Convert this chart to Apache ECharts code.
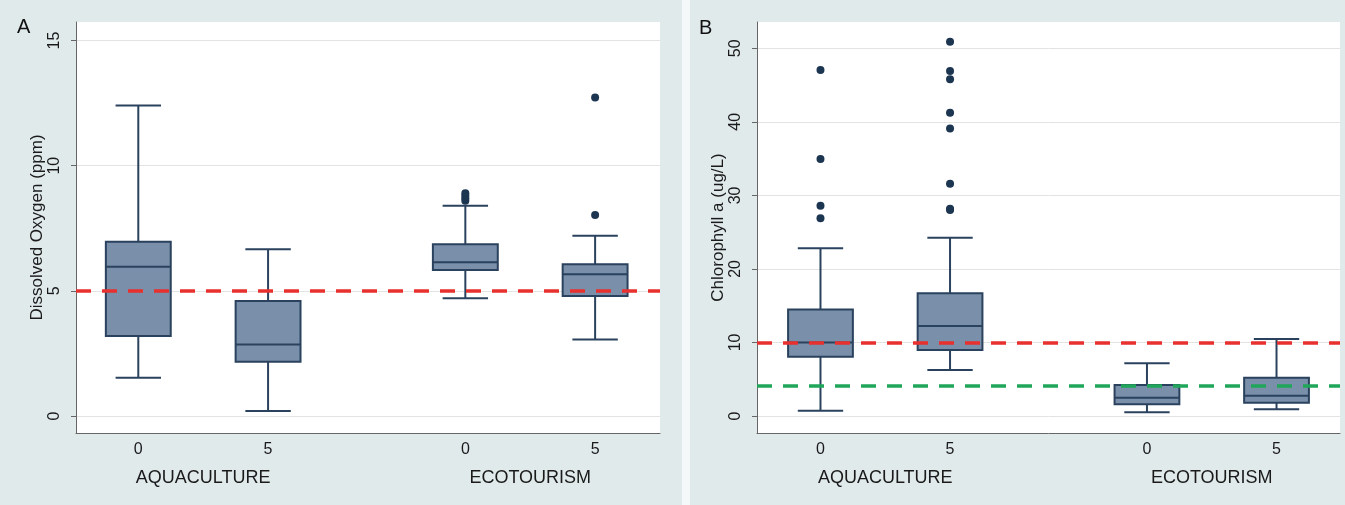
<!DOCTYPE html>
<html>
<head>
<meta charset="utf-8">
<script src="https://cdn.jsdelivr.net/npm/echarts@6/dist/echarts.min.js"></script>
<style>
  html, body { margin: 0; padding: 0; background: #e1eaeb; }
  #main { width: 1345px; height: 505px; }
</style>
</head>
<body>
<div id="main"></div>
<script>
// categories
const groupNames = ['AQUACULTURE', 'ECOTOURISM'];
const groupCenters = [1.5, 4.02];
const levelLabels = ['0', '5', '0', '5'];
const positions = [1, 2, 3.52, 4.52];

// dissolved oxygen boxes: [min, q1, median, q3, max]
const doBoxes = [
  [1.53, 3.2, 5.96, 6.96, 12.4],
  [0.2, 2.17, 2.86, 4.59, 6.66],
  [4.7, 5.83, 6.14, 6.86, 8.4],
  [3.06, 4.79, 5.66, 6.06, 7.2]
];
// outliers: [box index, value]
const doOutliers = [
  [2, 8.6], [2, 8.7], [2, 8.8], [2, 8.9],
  [3, 8.03], [3, 12.72]
];
const doTicks = [0, 5, 10, 15];
const doLimit = 5;

// chlorophyll a boxes
const chlBoxes = [
  [0.72, 8.07, 10.0, 14.5, 22.8],
  [6.26, 8.97, 12.24, 16.7, 24.25],
  [0.5, 1.59, 2.49, 4.22, 7.16],
  [0.91, 1.81, 2.76, 5.21, 10.47]
];
const chlOutliers = [
  [0, 47.05], [0, 34.95], [0, 28.6], [0, 26.9],
  [1, 50.9], [1, 46.9], [1, 45.8], [1, 41.25], [1, 39.1], [1, 31.6], [1, 28.2], [1, 28.0]
];
const chlTicks = [0, 10, 20, 30, 40, 50];
const chlRedLimit = 10;
const chlGreenLimit = 4.1;

const FONT = 'Liberation Sans';
const TXT = '#1a1a1a';
const BOX_FILL = '#7a8fa9';
const BOX_LINE = '#2a425e';
const DOT = '#1c3551';
const BOX_W = 0.5;
const CAP_W = 0.35;

function renderBox(params, api) {
  const x = api.value(0);
  const lo = api.coord([x, api.value(1)]);
  const q1 = api.coord([x, api.value(2)]);
  const md = api.coord([x, api.value(3)]);
  const q3 = api.coord([x, api.value(4)]);
  const hi = api.coord([x, api.value(5)]);
  const bw = api.size([BOX_W, 0])[0];
  const cw = api.size([CAP_W, 0])[0];
  const cx = lo[0];
  const ls = { stroke: BOX_LINE, lineWidth: 2 };
  return {
    type: 'group',
    children: [
      { type: 'line', shape: { x1: cx, y1: hi[1], x2: cx, y2: q3[1] }, style: ls },
      { type: 'line', shape: { x1: cx, y1: q1[1], x2: cx, y2: lo[1] }, style: ls },
      { type: 'line', shape: { x1: cx - cw / 2, y1: hi[1], x2: cx + cw / 2, y2: hi[1] }, style: ls },
      { type: 'line', shape: { x1: cx - cw / 2, y1: lo[1], x2: cx + cw / 2, y2: lo[1] }, style: ls },
      { type: 'rect', shape: { x: cx - bw / 2, y: q3[1], width: bw, height: q1[1] - q3[1] },
        style: { fill: BOX_FILL, stroke: BOX_LINE, lineWidth: 2 } },
      { type: 'line', shape: { x1: cx - bw / 2, y1: md[1], x2: cx + bw / 2, y2: md[1] }, style: ls }
    ]
  };
}

function boxData(boxes) {
  return boxes.map((b, i) => [positions[i]].concat(b));
}
function dotData(outs) {
  return outs.map(o => [positions[o[0]], o[1]]);
}

function xAxes(gridIndex, min, max) {
  return [
    {
      type: 'value', gridIndex: gridIndex, min: min, max: max,
      axisLine: { show: true, onZero: false, lineStyle: { color: '#666', width: 1 } },
      axisTick: { show: false },
      splitLine: { show: false },
      axisLabel: {
        customValues: positions, margin: 9, fontFamily: FONT, fontSize: 16, color: TXT,
        formatter: v => levelLabels[positions.indexOf(v)]
      }
    },
    {
      type: 'value', gridIndex: gridIndex, min: min, max: max, position: 'bottom', offset: 28,
      axisLine: { show: false, onZero: false }, axisTick: { show: false }, splitLine: { show: false },
      axisLabel: {
        customValues: groupCenters, margin: 8, fontFamily: FONT, fontSize: 18, color: TXT,
        formatter: v => groupNames[groupCenters.indexOf(v)]
      }
    }
  ];
}

function yAxis(gridIndex, min, max, ticks, name) {
  return {
    type: 'value', gridIndex: gridIndex, min: min, max: max,
    name: name, nameLocation: 'middle', nameRotate: 90, nameGap: 29,
    nameTextStyle: { fontFamily: FONT, fontSize: 17, color: TXT },
    axisLine: { show: true, onZero: false, lineStyle: { color: '#666', width: 1 } },
    axisTick: { show: true, customValues: ticks, length: 5, lineStyle: { color: '#666' } },
    splitLine: { show: true, lineStyle: { color: '#e3e3e3', width: 1 } },
    axisLabel: { customValues: ticks, rotate: 90, margin: 13, fontFamily: FONT, fontSize: 16, color: TXT }
  };
}

function limitLine(value, color) {
  return {
    silent: true, symbol: 'none', label: { show: false },
    lineStyle: { color: color, type: [15, 11], width: 3.5 },
    data: [{ yAxis: value }]
  };
}

const chart = echarts.init(document.getElementById('main'), null, { renderer: 'canvas' });

const option = {
  backgroundColor: '#e1eaeb',
  animation: false,
  graphic: [
    { type: 'rect', left: 682, top: 0, shape: { width: 8, height: 505 }, style: { fill: '#f4f8f8' } },
    { type: 'text', left: 17, top: 17, style: { text: 'A', fontFamily: FONT, fontSize: 20, fill: '#111' } },
    { type: 'text', left: 699, top: 18, style: { text: 'B', fontFamily: FONT, fontSize: 20, fill: '#111' } }
  ],
  grid: [
    { left: 76, top: 22, width: 584, height: 411, show: true, backgroundColor: '#fff', borderWidth: 0 },
    { left: 757, top: 22, width: 583, height: 411, show: true, backgroundColor: '#fff', borderWidth: 0 }
  ],
  xAxis: xAxes(0, 0.52, 5.02).concat(xAxes(1, 0.51, 5.01)),
  yAxis: [
    yAxis(0, -0.68, 15.74, doTicks, 'Dissolved Oxygen (ppm)'),
    yAxis(1, -2.31, 53.58, chlTicks, 'Chlorophyll a (ug/L)')
  ],
  series: [
    {
      type: 'custom', xAxisIndex: 0, yAxisIndex: 0, renderItem: renderBox,
      encode: { x: 0, y: [1, 2, 3, 4, 5] }, data: boxData(doBoxes), z: 2
    },
    {
      type: 'scatter', xAxisIndex: 0, yAxisIndex: 0, symbolSize: 8,
      itemStyle: { color: DOT, opacity: 1 }, data: dotData(doOutliers), z: 3
    },
    {
      type: 'line', xAxisIndex: 0, yAxisIndex: 0, data: [], z: 5,
      markLine: limitLine(doLimit, '#e8302e')
    },
    {
      type: 'custom', xAxisIndex: 2, yAxisIndex: 1, renderItem: renderBox,
      encode: { x: 0, y: [1, 2, 3, 4, 5] }, data: boxData(chlBoxes), z: 2
    },
    {
      type: 'scatter', xAxisIndex: 2, yAxisIndex: 1, symbolSize: 8,
      itemStyle: { color: DOT, opacity: 1 }, data: dotData(chlOutliers), z: 3
    },
    {
      type: 'line', xAxisIndex: 2, yAxisIndex: 1, data: [], z: 5,
      markLine: limitLine(chlRedLimit, '#e8302e')
    },
    {
      type: 'line', xAxisIndex: 2, yAxisIndex: 1, data: [], z: 5,
      markLine: limitLine(chlGreenLimit, '#20a65a')
    }
  ]
};

chart.setOption(option);
</script>
</body>
</html>
